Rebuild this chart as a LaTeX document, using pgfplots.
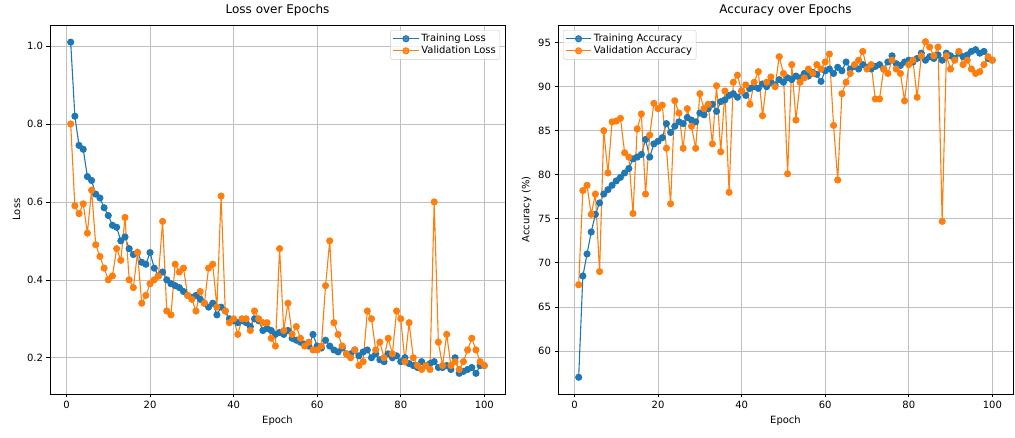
\documentclass[border=0pt]{standalone}
\usepackage{fontspec}
\setmainfont{DejaVu Sans}
\usepackage{pgfplots}
\usepackage{pgfplotstable}
\pgfplotsset{compat=1.18}

\definecolor{tabblue}{HTML}{1F77B4}
\definecolor{taborange}{HTML}{FF7F0E}

% epoch, training loss, validation loss
\pgfplotstableread{
ep trl val
1 1.01 0.80
2 0.82 0.59
3 0.745 0.57
4 0.735 0.595
5 0.665 0.52
6 0.655 0.63
7 0.62 0.49
8 0.61 0.46
9 0.585 0.43
10 0.565 0.40
11 0.54 0.41
12 0.535 0.48
13 0.50 0.45
14 0.51 0.56
15 0.48 0.40
16 0.465 0.38
17 0.47 0.47
18 0.445 0.34
19 0.44 0.36
20 0.47 0.39
21 0.43 0.40
22 0.41 0.41
23 0.42 0.55
24 0.40 0.32
25 0.39 0.31
26 0.385 0.44
27 0.38 0.42
28 0.37 0.43
29 0.36 0.36
30 0.355 0.35
31 0.36 0.32
32 0.35 0.37
33 0.34 0.34
34 0.33 0.43
35 0.34 0.44
36 0.31 0.33
37 0.33 0.615
38 0.32 0.32
39 0.30 0.29
40 0.295 0.30
41 0.29 0.26
42 0.295 0.30
43 0.29 0.30
44 0.28 0.27
45 0.30 0.32
46 0.295 0.30
47 0.27 0.29
48 0.275 0.29
49 0.27 0.25
50 0.26 0.23
51 0.265 0.48
52 0.26 0.27
53 0.27 0.34
54 0.25 0.26
55 0.245 0.28
56 0.24 0.25
57 0.235 0.23
58 0.23 0.24
59 0.26 0.22
60 0.23 0.22
61 0.225 0.23
62 0.245 0.385
63 0.23 0.50
64 0.22 0.29
65 0.215 0.26
66 0.225 0.23
67 0.21 0.21
68 0.21 0.20
69 0.22 0.22
70 0.205 0.18
71 0.215 0.19
72 0.22 0.32
73 0.20 0.30
74 0.21 0.22
75 0.195 0.24
76 0.19 0.20
77 0.21 0.25
78 0.20 0.21
79 0.205 0.32
80 0.19 0.30
81 0.20 0.19
82 0.185 0.29
83 0.18 0.20
84 0.175 0.18
85 0.19 0.17
86 0.18 0.18
87 0.185 0.17
88 0.19 0.60
89 0.175 0.24
90 0.175 0.18
91 0.18 0.26
92 0.17 0.18
93 0.20 0.19
94 0.16 0.17
95 0.165 0.19
96 0.17 0.22
97 0.175 0.25
98 0.16 0.22
99 0.18 0.19
100 0.18 0.18
}\losstable

% epoch, training accuracy, validation accuracy
\pgfplotstableread{
ep tra vaa
1 57.0 67.5
2 68.5 78.2
3 71.0 78.8
4 73.5 75.5
5 75.5 77.8
6 76.8 69.0
7 77.8 85.0
8 78.3 80.2
9 78.8 86.0
10 79.3 86.1
11 79.7 86.4
12 80.2 82.5
13 80.7 82.0
14 81.8 75.6
15 82.0 85.2
16 82.3 86.9
17 84.0 77.8
18 82.0 84.5
19 83.5 88.1
20 83.8 87.5
21 84.2 87.9
22 85.8 83.0
23 84.8 76.7
24 85.5 88.4
25 86.0 87.0
26 85.8 83.0
27 86.5 87.5
28 86.2 85.5
29 86.0 83.0
30 87.0 89.2
31 86.8 87.5
32 87.5 88.0
33 88.0 83.5
34 87.2 90.1
35 88.3 82.6
36 88.5 89.5
37 89.0 78.0
38 89.2 90.5
39 88.8 91.3
40 89.5 89.5
41 89.0 90.2
42 89.8 88.0
43 90.0 90.5
44 89.8 91.7
45 90.3 86.7
46 90.0 90.5
47 90.5 91.1
48 90.2 90.0
49 90.8 93.4
50 90.5 91.5
51 91.0 80.1
52 90.8 92.5
53 91.2 86.2
54 91.0 90.5
55 91.5 91.0
56 91.2 92.0
57 91.6 91.5
58 91.4 92.5
59 90.6 92.0
60 91.8 92.8
61 92.0 93.7
62 91.5 85.6
63 92.2 79.4
64 91.8 89.2
65 92.8 90.5
66 92.0 91.5
67 92.3 92.5
68 92.0 93.0
69 92.5 94.0
70 92.2 92.0
71 92.0 92.5
72 92.3 88.6
73 92.5 88.6
74 92.0 92.0
75 92.8 91.5
76 93.5 93.0
77 92.6 92.0
78 92.4 91.5
79 92.8 88.4
80 93.0 92.5
81 92.8 93.0
82 93.2 88.8
83 93.8 93.5
84 93.0 95.1
85 93.4 94.5
86 93.2 93.5
87 93.6 94.5
88 93.0 74.7
89 93.8 93.5
90 93.5 92.0
91 93.2 93.0
92 93.8 94.0
93 93.4 92.5
94 93.6 93.0
95 94.0 92.0
96 94.2 91.5
97 93.8 91.7
98 94.0 92.5
99 93.2 93.4
100 93.0 93.0
}\acctable

\pgfplotsset{
  mpl/.style={
    scale only axis,
    width=455pt, height=369pt,
    xmin=-3.95, xmax=104.95,
    xtick={0,20,...,100},
    grid=major,
    major grid style={color=black!25, line width=0.6pt},
    axis line style={line width=0.6pt},
    tick align=outside, tick pos=left,
    major tick length=3.5pt,
    tick style={black, line width=0.6pt},
    tick label style={font=\fontsize{10}{12}\selectfont},
    label style={font=\fontsize{10}{12}\selectfont},
    title style={font=\fontsize{12}{14}\selectfont, yshift=-1pt},
    /pgf/number format/assume math mode=true,
    xlabel={Epoch},
    legend cell align=left,
    legend image code/.code={
      \draw[mark repeat=2, mark phase=2]
        plot coordinates {(0cm,0cm) (0.45cm,0cm) (0.9cm,0cm)};},
    legend style={font=\fontsize{10}{12}\selectfont, draw=black!20,
      rounded corners=2pt, fill=white, fill opacity=0.8, text opacity=1,
      inner sep=2pt, row sep=-1pt},
  },
  trn/.style={color=tabblue, line width=1.1pt, mark=*, mark size=3pt},
  vld/.style={color=taborange, line width=1.1pt, mark=*, mark size=3pt},
}

\begin{document}
\begin{tikzpicture}
\path[use as bounding box] (0,0) rectangle (1015pt,438pt);

\begin{axis}[mpl,
    at={(50pt,44pt)}, anchor=south west,
    ymin=0.107, ymax=1.054,
    ytick={0.2,0.4,0.6,0.8,1.0},
    yticklabel style={/pgf/number format/.cd, fixed, fixed zerofill, precision=1},
    ylabel={Loss},
    title={Loss over Epochs},
    legend style={at={(1,1)}, anchor=north east, xshift=-5pt, yshift=-5pt},
]
\addplot[trn] table[x=ep, y=trl] {\losstable};
\addlegendentry{Training Loss}
\addplot[vld] table[x=ep, y=val] {\losstable};
\addlegendentry{Validation Loss}
\end{axis}

\begin{axis}[mpl,
    at={(558pt,44pt)}, anchor=south west,
    ymin=55.1, ymax=97.0,
    ytick={60,65,...,95},
    ylabel={Accuracy (\%)},
    title={Accuracy over Epochs},
    legend style={at={(0,1)}, anchor=north west, xshift=5pt, yshift=-5pt},
]
\addplot[trn] table[x=ep, y=tra] {\acctable};
\addlegendentry{Training Accuracy}
\addplot[vld] table[x=ep, y=vaa] {\acctable};
\addlegendentry{Validation Accuracy}
\end{axis}
\end{tikzpicture}
\end{document}
